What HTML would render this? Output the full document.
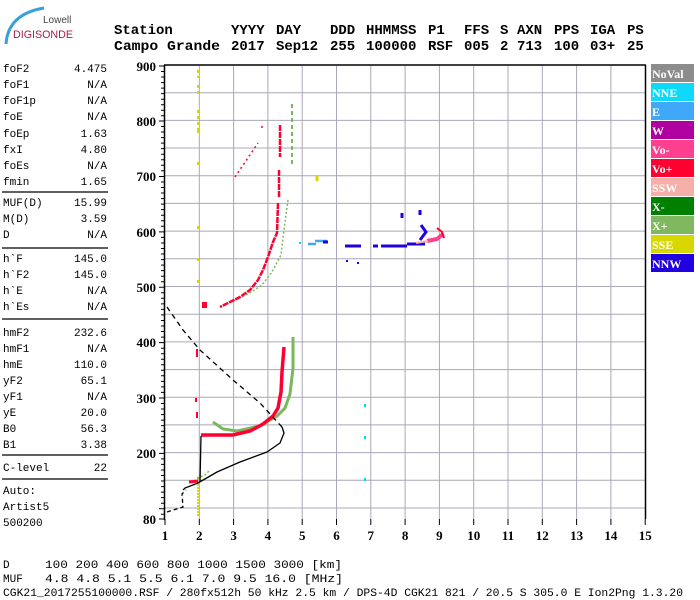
<!DOCTYPE html>
<html><head><meta charset="utf-8"><style>
html,body{margin:0;padding:0;background:#fff;}
svg{display:block;}
.m{font-family:"Liberation Mono",monospace;font-size:11px;fill:#000;}
.h{font-family:"Liberation Mono",monospace;font-size:14px;font-weight:bold;fill:#000;}
.ax{font-family:"Liberation Serif",serif;font-size:13px;font-weight:bold;fill:#000;}
.lg{font-family:"Liberation Serif",serif;font-size:12px;font-weight:bold;fill:#fff;}
</style></head><body>
<svg width="700" height="600" viewBox="0 0 700 600" xmlns="http://www.w3.org/2000/svg">
<!-- logo -->
<path d="M6,44 Q8,14 44,8" stroke="#3aa0d8" stroke-width="3" fill="none"/>
<text x="43" y="23" style="font-family:'Liberation Sans',sans-serif;font-size:10px;fill:#444">Lowell</text>
<text x="13" y="38" style="font-family:'Liberation Sans',sans-serif;font-size:11px;fill:#a0204a" textLength="60" lengthAdjust="spacingAndGlyphs">DIGISONDE</text>
<!-- header -->
<g class="h">
<text x="114" y="34">Station</text><text x="231" y="34">YYYY</text><text x="276" y="34">DAY</text><text x="330" y="34">DDD</text><text x="366" y="34">HHMMSS</text><text x="428" y="34">P1</text><text x="464" y="34">FFS</text><text x="500" y="34">S</text><text x="517" y="34">AXN</text><text x="554" y="34">PPS</text><text x="590" y="34">IGA</text><text x="627" y="34">PS</text>
<text x="114" y="50" textLength="106" lengthAdjust="spacingAndGlyphs">Campo Grande</text><text x="231" y="50">2017</text><text x="276" y="50">Sep12</text><text x="330" y="50">255</text><text x="366" y="50">100000</text><text x="428" y="50">RSF</text><text x="464" y="50">005</text><text x="500" y="50">2</text><text x="517" y="50">713</text><text x="554" y="50">100</text><text x="590" y="50">03+</text><text x="627" y="50">25</text>
</g>
<!-- left panel -->
<g class="m">
<text x="3" y="72">foF2</text><text x="107" y="72" text-anchor="end">4.475</text>
<text x="3" y="88">foF1</text><text x="107" y="88" text-anchor="end">N/A</text>
<text x="3" y="104">foF1p</text><text x="107" y="104" text-anchor="end">N/A</text>
<text x="3" y="120">foE</text><text x="107" y="120" text-anchor="end">N/A</text>
<text x="3" y="137">foEp</text><text x="107" y="137" text-anchor="end">1.63</text>
<text x="3" y="153">fxI</text><text x="107" y="153" text-anchor="end">4.80</text>
<text x="3" y="169">foEs</text><text x="107" y="169" text-anchor="end">N/A</text>
<text x="3" y="185">fmin</text><text x="107" y="185" text-anchor="end">1.65</text>
<text x="3" y="206">MUF(D)</text><text x="107" y="206" text-anchor="end">15.99</text>
<text x="3" y="222">M(D)</text><text x="107" y="222" text-anchor="end">3.59</text>
<text x="3" y="238">D</text><text x="107" y="238" text-anchor="end">N/A</text>
<text x="3" y="262">h`F</text><text x="107" y="262" text-anchor="end">145.0</text>
<text x="3" y="278">h`F2</text><text x="107" y="278" text-anchor="end">145.0</text>
<text x="3" y="294">h`E</text><text x="107" y="294" text-anchor="end">N/A</text>
<text x="3" y="310">h`Es</text><text x="107" y="310" text-anchor="end">N/A</text>
<text x="3" y="336">hmF2</text><text x="107" y="336" text-anchor="end">232.6</text>
<text x="3" y="352">hmF1</text><text x="107" y="352" text-anchor="end">N/A</text>
<text x="3" y="368">hmE</text><text x="107" y="368" text-anchor="end">110.0</text>
<text x="3" y="384">yF2</text><text x="107" y="384" text-anchor="end">65.1</text>
<text x="3" y="400">yF1</text><text x="107" y="400" text-anchor="end">N/A</text>
<text x="3" y="416">yE</text><text x="107" y="416" text-anchor="end">20.0</text>
<text x="3" y="432">B0</text><text x="107" y="432" text-anchor="end">56.3</text>
<text x="3" y="448">B1</text><text x="107" y="448" text-anchor="end">3.38</text>
<text x="3" y="471">C-level</text><text x="107" y="471" text-anchor="end">22</text>
<text x="3" y="494">Auto:</text>
<text x="3" y="510">Artist5</text>
<text x="3" y="526">500200</text>
</g>
<g stroke="#000" stroke-width="1.3">
<line x1="2" y1="192" x2="108" y2="192"/><line x1="2" y1="248" x2="108" y2="248"/>
<line x1="2" y1="319" x2="108" y2="319"/><line x1="2" y1="455" x2="108" y2="455"/>
<line x1="2" y1="479" x2="108" y2="479"/>
</g>
<!-- grid -->
<g stroke="#a8a8b8" stroke-width="1">
<line x1="199.3" y1="66" x2="199.3" y2="519"/><line x1="233.6" y1="66" x2="233.6" y2="519"/><line x1="267.9" y1="66" x2="267.9" y2="519"/><line x1="302.2" y1="66" x2="302.2" y2="519"/><line x1="336.5" y1="66" x2="336.5" y2="519"/><line x1="370.8" y1="66" x2="370.8" y2="519"/><line x1="405.1" y1="66" x2="405.1" y2="519"/><line x1="439.4" y1="66" x2="439.4" y2="519"/><line x1="473.7" y1="66" x2="473.7" y2="519"/><line x1="508" y1="66" x2="508" y2="519"/><line x1="542.3" y1="66" x2="542.3" y2="519"/><line x1="576.6" y1="66" x2="576.6" y2="519"/><line x1="610.9" y1="66" x2="610.9" y2="519"/>
<line x1="165" y1="92.7" x2="645" y2="92.7"/><line x1="165" y1="120.4" x2="645" y2="120.4"/><line x1="165" y1="148" x2="645" y2="148"/><line x1="165" y1="175.7" x2="645" y2="175.7"/><line x1="165" y1="203.4" x2="645" y2="203.4"/><line x1="165" y1="231.1" x2="645" y2="231.1"/><line x1="165" y1="258.8" x2="645" y2="258.8"/><line x1="165" y1="286.5" x2="645" y2="286.5"/><line x1="165" y1="314.2" x2="645" y2="314.2"/><line x1="165" y1="341.9" x2="645" y2="341.9"/><line x1="165" y1="369.6" x2="645" y2="369.6"/><line x1="165" y1="397.2" x2="645" y2="397.2"/><line x1="165" y1="424.9" x2="645" y2="424.9"/><line x1="165" y1="452.6" x2="645" y2="452.6"/><line x1="165" y1="480.3" x2="645" y2="480.3"/><line x1="165" y1="508" x2="645" y2="508"/>
</g>
<!-- frame -->
<g stroke="#000" stroke-width="1.5" fill="none">
<line x1="164" y1="65" x2="646" y2="65"/><line x1="645.5" y1="65" x2="645.5" y2="519"/><line x1="164.5" y1="65" x2="164.5" y2="520"/>
</g>
<!-- ticks -->
<g stroke="#000" stroke-width="1">
<path d="M159,66h6M159,121h6M159,176.5h6M159,231.9h6M159,287.3h6M159,342.6h6M159,398h6M159,453.4h6M159,508.8h6M159,519h6
M161,71.5h4M161,77h4M161,82.6h4M161,88.1h4M161,93.6h4M161,99.2h4M161,104.7h4M161,110.2h4M161,115.8h4
M161,126.5h4M161,132h4M161,137.6h4M161,143.1h4M161,148.6h4M161,154.2h4M161,159.7h4M161,165.2h4M161,170.8h4
M161,182h4M161,187.5h4M161,193h4M161,198.6h4M161,204.1h4M161,209.6h4M161,215.2h4M161,220.7h4M161,226.2h4
M161,237.4h4M161,243h4M161,248.5h4M161,254h4M161,259.6h4M161,265.1h4M161,270.6h4M161,276.2h4M161,281.7h4
M161,292.8h4M161,298.3h4M161,303.9h4M161,309.4h4M161,314.9h4M161,320.5h4M161,326h4M161,331.5h4M161,337.1h4
M161,348.2h4M161,353.7h4M161,359.2h4M161,364.8h4M161,370.3h4M161,375.8h4M161,381.4h4M161,386.9h4M161,392.4h4
M161,403.5h4M161,409h4M161,414.6h4M161,420.1h4M161,425.6h4M161,431.2h4M161,436.7h4M161,442.2h4M161,447.8h4
M161,458.9h4M161,464.4h4M161,470h4M161,475.5h4M161,481h4M161,486.6h4M161,492.1h4M161,497.6h4M161,503.2h4M161,514.3h4"/>
<path d="M165,519v6M199.3,519v6M233.6,519v6M267.9,519v6M302.2,519v6M336.5,519v6M370.8,519v6M405.1,519v6M439.4,519v6M473.7,519v6M508,519v6M542.3,519v6M576.6,519v6M610.9,519v6M645.2,519v6"/>
</g>
<g class="ax" text-anchor="end">
<text x="156" y="71">900</text><text x="156" y="126">800</text><text x="156" y="181">700</text><text x="156" y="237">600</text><text x="156" y="292">500</text><text x="156" y="347">400</text><text x="156" y="403">300</text><text x="156" y="458">200</text><text x="156" y="524">80</text>
</g>
<g class="ax" text-anchor="middle">
<text x="165" y="540">1</text><text x="199.3" y="540">2</text><text x="233.6" y="540">3</text><text x="267.9" y="540">4</text><text x="302.2" y="540">5</text><text x="336.5" y="540">6</text><text x="370.8" y="540">7</text><text x="405.1" y="540">8</text><text x="439.4" y="540">9</text><text x="473.7" y="540">10</text><text x="508" y="540">11</text><text x="542.3" y="540">12</text><text x="576.6" y="540">13</text><text x="610.9" y="540">14</text><text x="645.2" y="540">15</text>
</g>
<!-- yellow -->
<g stroke="#d8d800" stroke-width="2" fill="none" stroke-dasharray="3,3">
<path d="M198,70v8M198,85v10M198,110v20M198,130v4M198,162v6M198,226v4M198,258v3M198,280v3"/>
<path d="M198,478v38" stroke-dasharray="2,1"/>
<path d="M317,176v5" stroke-dasharray="none" stroke-width="3"/>
</g>
<!-- green X -->
<g stroke="#7ab860" fill="none">
<path d="M292,104v60" stroke-width="2" stroke-dasharray="4,3"/>
<path d="M288,200 L285,222 L281,255 L272,272 L262,285 L248,294 L236,299 L230,302" stroke-width="1.5" stroke-dasharray="2,2"/>
<path d="M213,422 L223,429 L237,431 L260,426 L277,416 L285,408 L290,394 L293,368 L293,337" stroke-width="3"/>
<path d="M197,478 L205,475 L210,470" stroke-width="1.5" stroke-dasharray="2,2"/>
</g>
<!-- red O -->
<g stroke="#ff0030" fill="none">
<path d="M280,125V157M279,170V198M278,203 L277,233 L273,242 L268,257 L263,270 L258,280 L250,290 L240,297 L230,302 L220,307" stroke-width="2.5" stroke-dasharray="6,1"/>
<path d="M235,177 L258,143M262,126v4" stroke-width="1.5" stroke-dasharray="2,3"/>
<rect x="202" y="302" width="5" height="6" fill="#ff0030" stroke="none"/>
<path d="M201,435 L233,435 L250,431 L263,424 L273,416 L278,408 L281,392 L282,372 L284,347" stroke-width="3.5"/>
<path d="M189,482 L198,481" stroke-width="3"/>
<path d="M197,349v8M196,398v4M197,412v6" stroke-width="2"/>
</g>
<!-- black -->
<g stroke="#000" fill="none" stroke-width="1.3">
<path d="M200,482 L201,436"/>
<path d="M183,490 L185,488 L198,483 L217,472 L240,462 L267,452 L280,443 L284,433 L282,427"/>
<path d="M167,307 L183,330 L200,350 L233,380 L260,403 L282,427" stroke-dasharray="5,4"/>
<path d="M167,512 L183,507 L182,494 L186,490" stroke-dasharray="4,3"/>
</g>
<!-- blue traces -->
<g fill="none">
<path d="M308,244h8M315,241h12" stroke="#40a8f0" stroke-width="2.5"/>
<rect x="299" y="242" width="2" height="2" fill="#00d8f0"/>
<path d="M323,242h5M345,246h16M373,246h5M381,246h26M407,244h18M420,240 L426,232 L421,225M402,213v5M420,210v5" stroke="#2000e0" stroke-width="3"/>
<path d="M347,260v2M358,262v2" stroke="#2000e0" stroke-width="2"/>
<path d="M427,241 L437,239 L443,234" stroke="#ff4090" stroke-width="4"/>
<path d="M437,228 L442,232 L444,238" stroke="#ff0030" stroke-width="2"/>
<path d="M416,243 L428,241" stroke="#f4b0a8" stroke-width="2"/>
<rect x="364" y="404" width="2" height="3" fill="#00d8f0"/><rect x="364" y="436" width="2" height="3" fill="#00d8f0"/><rect x="364" y="478" width="2" height="3" fill="#00d8f0"/>
</g>
<!-- legend -->
<g>
<rect x="651" y="64" width="43" height="18" fill="#8c8c8c"/>
<rect x="651" y="83" width="43" height="18" fill="#10d8f8"/>
<rect x="651" y="102" width="43" height="18" fill="#40a8f8"/>
<rect x="651" y="121" width="43" height="18" fill="#b000a0"/>
<rect x="651" y="140" width="43" height="18" fill="#ff4090"/>
<rect x="651" y="159" width="43" height="18" fill="#ff0030"/>
<rect x="651" y="178" width="43" height="18" fill="#f4b0a8"/>
<rect x="651" y="197" width="43" height="18" fill="#008000"/>
<rect x="651" y="216" width="43" height="18" fill="#80b860"/>
<rect x="651" y="235" width="43" height="18" fill="#d8d800"/>
<rect x="651" y="254" width="43" height="18" fill="#2000e0"/>
</g>
<g class="lg">
<text x="652" y="78">NoVal</text><text x="652" y="97">NNE</text><text x="652" y="116">E</text><text x="652" y="135">W</text><text x="652" y="154">Vo-</text><text x="652" y="173">Vo+</text><text x="652" y="192">SSW</text><text x="652" y="211">X-</text><text x="652" y="230">X+</text><text x="652" y="249">SSE</text><text x="652" y="268">NNW</text>
</g>
<!-- bottom -->
<g class="m" style="font-size:11px">
<text x="3" y="568">D</text><text x="45" y="568" textLength="297" lengthAdjust="spacingAndGlyphs">100  200  400  600  800 1000 1500 3000 [km]</text>
<text x="3" y="582">MUF</text><text x="45" y="582" textLength="298" lengthAdjust="spacingAndGlyphs"> 4.8  4.8  5.1  5.5  6.1  7.0  9.5 16.0 [MHz]</text>
<text x="3" y="596" textLength="680" lengthAdjust="spacingAndGlyphs">CGK21_2017255100000.RSF / 280fx512h 50 kHz 2.5 km / DPS-4D CGK21 821 / 20.5 S 305.0 E Ion2Png 1.3.20</text>
</g>
</svg>
</body></html>
